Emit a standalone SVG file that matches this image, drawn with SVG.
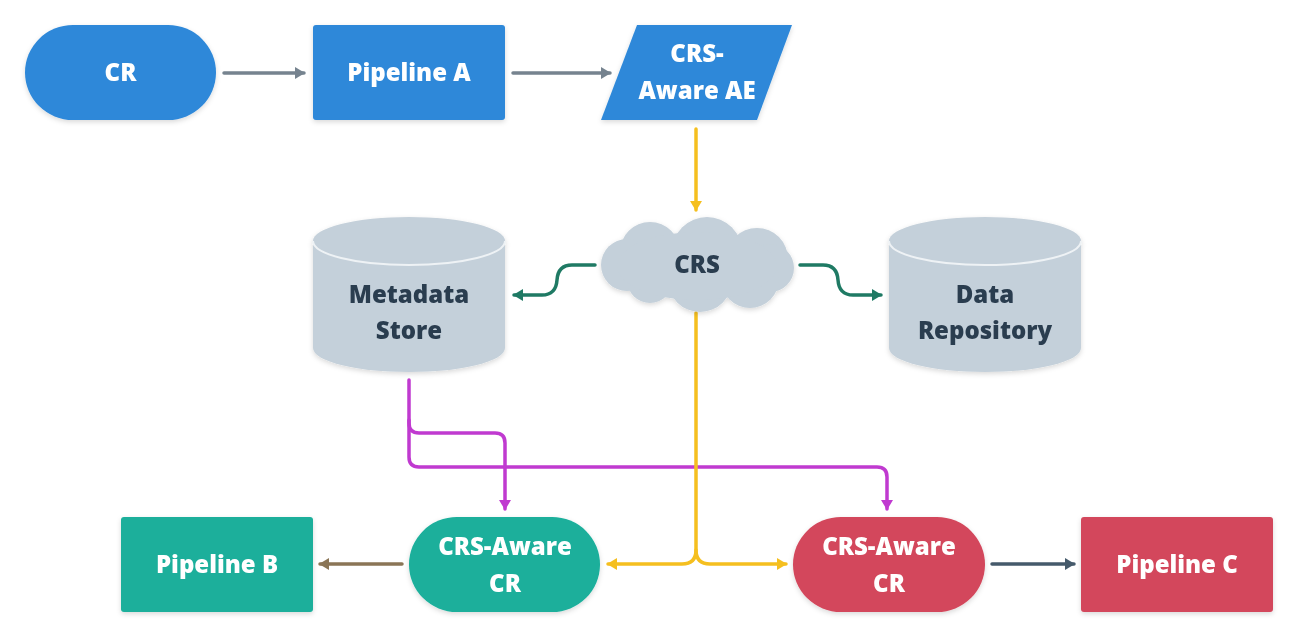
<svg xmlns="http://www.w3.org/2000/svg" width="1298" height="638" viewBox="0 0 1298 638">
<defs>
<style>
.lbl{font-family:"Open Sans","Liberation Sans",sans-serif;font-weight:800;font-size:24px;text-anchor:middle;fill:#ffffff}
.dk{fill:#2c3e50}
.blue{fill:#2e88d9}
.teal{fill:#1aaf9b}
.red{fill:#d3475b}
.gray{fill:#c4d0da}
.c{fill:none;stroke-width:3.5;stroke-linecap:round;stroke-linejoin:round}
</style>
<filter id="sh" x="-10%" y="-10%" width="120%" height="130%">
<feDropShadow dx="0" dy="2" stdDeviation="2.5" flood-color="#000" flood-opacity="0.15"/>
</filter>
<marker id="aGray" markerWidth="10" markerHeight="12" refX="9" refY="6" orient="auto" markerUnits="userSpaceOnUse"><path d="M0,0 L10,6 L0,12 Z" fill="#76838f"/></marker>
<marker id="aYel" markerWidth="10" markerHeight="12" refX="9" refY="6" orient="auto" markerUnits="userSpaceOnUse"><path d="M0,0 L10,6 L0,12 Z" fill="#f5bf1f"/></marker>
<marker id="aGrn" markerWidth="10" markerHeight="12" refX="9" refY="6" orient="auto" markerUnits="userSpaceOnUse"><path d="M0,0 L10,6 L0,12 Z" fill="#1f7a64"/></marker>
<marker id="aPur" markerWidth="10" markerHeight="12" refX="9" refY="6" orient="auto" markerUnits="userSpaceOnUse"><path d="M0,0 L10,6 L0,12 Z" fill="#c03ad0"/></marker>
<marker id="aBrn" markerWidth="10" markerHeight="12" refX="9" refY="6" orient="auto" markerUnits="userSpaceOnUse"><path d="M0,0 L10,6 L0,12 Z" fill="#8a7556"/></marker>
<marker id="aDk" markerWidth="10" markerHeight="12" refX="9" refY="6" orient="auto" markerUnits="userSpaceOnUse"><path d="M0,0 L10,6 L0,12 Z" fill="#455a6b"/></marker>
</defs>
<rect width="1298" height="638" fill="#ffffff"/>

<g id="connectors">
<path class="c" stroke="#76838f" d="M224,73 H304" marker-end="url(#aGray)"/>
<path class="c" stroke="#76838f" d="M513,73 H610" marker-end="url(#aGray)"/>
<path class="c" stroke="#f5bf1f" d="M696,129 V210" marker-end="url(#aYel)"/>
<path class="c" stroke="#1f7a64" d="M595,265 H572 Q558,265 557,280 Q556,295 542,295 H514" marker-end="url(#aGrn)"/>
<path class="c" stroke="#1f7a64" d="M800,265 H823 Q837,265 838,280 Q839,295 853,295 H881" marker-end="url(#aGrn)"/>
<path class="c" stroke="#c03ad0" d="M409,380 V423 Q409,433 419,433 H495 Q505,433 505,443 V509" marker-end="url(#aPur)"/>
<path class="c" stroke="#c03ad0" d="M409,420 V457 Q409,467 419,467 H877 Q887,467 887,477 V509" marker-end="url(#aPur)"/>
<path class="c" stroke="#f5bf1f" d="M696,313 V550 Q696,564 682,564 H608" marker-end="url(#aYel)"/>
<path class="c" stroke="#f5bf1f" d="M696,550 Q696,564 710,564 H786" marker-end="url(#aYel)"/>
<path class="c" stroke="#8a7556" d="M402,564 H320" marker-end="url(#aBrn)"/>
<path class="c" stroke="#455a6b" d="M992,564 H1074" marker-end="url(#aDk)"/>
</g>

<g id="node-cr" filter="url(#sh)">
<rect class="blue" x="25" y="25" width="191" height="95" rx="48" ry="47.5"/>
<text class="lbl" x="120.5" y="81">CR</text>
</g>
<g id="node-pipeline-a" filter="url(#sh)">
<rect class="blue" x="313" y="25" width="192" height="95" rx="3"/>
<text class="lbl" x="409" y="81">Pipeline A</text>
</g>
<g id="node-crs-aware-ae" filter="url(#sh)">
<path class="blue" d="M637,25 H792 L757,120 H601 Z"/>
<text class="lbl" x="697" y="62">CRS-</text>
<text class="lbl" x="697" y="99">Aware AE</text>
</g>
<g id="node-crs" filter="url(#sh)">
<g class="gray">
<circle cx="650" cy="252" r="30"/>
<circle cx="707" cy="252" r="35"/>
<circle cx="757" cy="259" r="31"/>
<circle cx="627" cy="265" r="26"/>
<circle cx="770" cy="268" r="24"/>
<circle cx="650" cy="280" r="23"/>
<circle cx="700" cy="280" r="32"/>
<circle cx="750" cy="279" r="29"/>
<ellipse cx="697" cy="266" rx="80" ry="34"/>
</g>
<text class="lbl dk" x="697" y="273">CRS</text>
</g>
<g id="node-metadata-store" filter="url(#sh)">
<path class="gray" d="M313,241 V348 A96,24 0 0 0 505,348 V241 A96,24 0 0 0 313,241 Z"/>
<path d="M313,241 A96,24 0 0 0 505,241" fill="none" stroke="#eef2f5" stroke-width="2"/>
<text class="lbl dk" x="409" y="303">Metadata</text>
<text class="lbl dk" x="409" y="339">Store</text>
</g>
<g id="node-data-repository" filter="url(#sh)">
<path class="gray" d="M889,241 V348 A96,24 0 0 0 1081,348 V241 A96,24 0 0 0 889,241 Z"/>
<path d="M889,241 A96,24 0 0 0 1081,241" fill="none" stroke="#eef2f5" stroke-width="2"/>
<text class="lbl dk" x="985" y="303">Data</text>
<text class="lbl dk" x="985" y="339">Repository</text>
</g>
<g id="node-pipeline-b" filter="url(#sh)">
<rect class="teal" x="121" y="517" width="192" height="95" rx="3"/>
<text class="lbl" x="217" y="573">Pipeline B</text>
</g>
<g id="node-crs-aware-cr-teal" filter="url(#sh)">
<rect class="teal" x="409" y="517" width="191" height="95" rx="48" ry="47.5"/>
<text class="lbl" x="505" y="555">CRS-Aware</text>
<text class="lbl" x="505" y="592">CR</text>
</g>
<g id="node-crs-aware-cr-red" filter="url(#sh)">
<rect class="red" x="793" y="517" width="192" height="95" rx="48" ry="47.5"/>
<text class="lbl" x="889" y="555">CRS-Aware</text>
<text class="lbl" x="889" y="592">CR</text>
</g>
<g id="node-pipeline-c" filter="url(#sh)">
<rect class="red" x="1081" y="517" width="192" height="95" rx="3"/>
<text class="lbl" x="1177" y="573">Pipeline C</text>
</g>
</svg>
